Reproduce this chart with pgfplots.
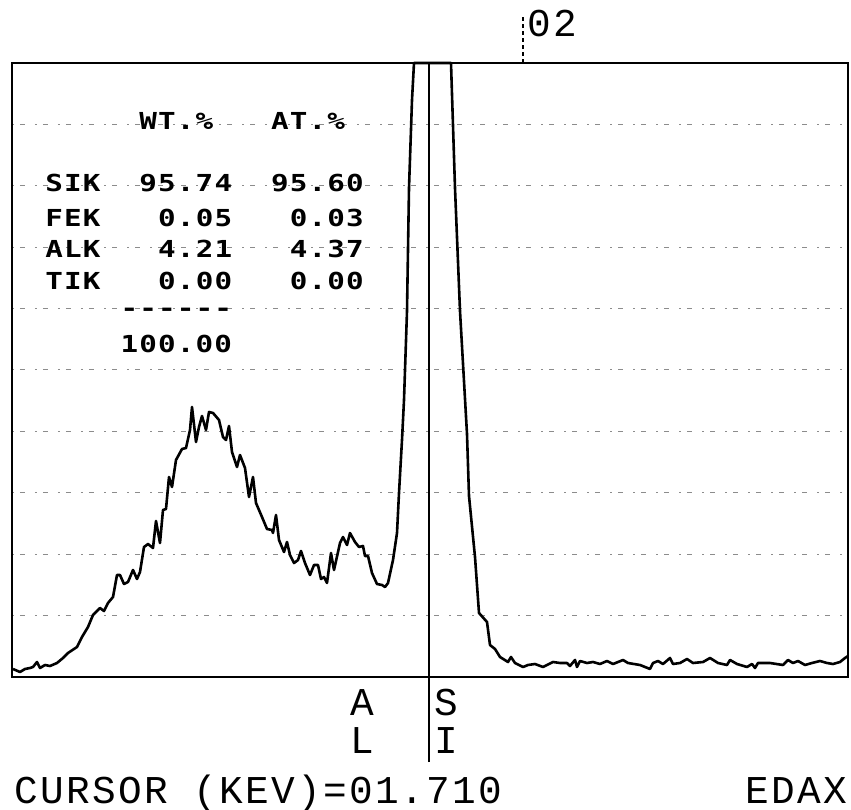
\documentclass[border=0pt]{standalone}
\usepackage{pgfplots}
\pgfplotsset{compat=1.18}
\usepackage{fontspec}
\setmainfont{Liberation Sans}
\newfontfamily\plotfont[LetterSpace=5.8]{Liberation Mono}
\newfontfamily\tabfontfam[FakeStretch=1.25,LetterSpace=5]{DejaVu Sans Mono}
\newcommand\tab{\tabfontfam\bfseries\fontsize{11.7pt}{12pt}\selectfont}
\newcommand\plt{\plotfont\fontsize{19.7pt}{20pt}\selectfont}
\begin{document}
\begin{tikzpicture}
\path[use as bounding box] (0,0) rectangle (425.5pt,404.5pt);
\begin{axis}[
  at={(6pt,66pt)}, anchor=south west,
  width=418pt, height=307pt, scale only axis,
  xmin=12, xmax=848, ymin=132, ymax=746,
  axis line style={line width=1pt},
  xtick=\empty,
  ytick={193.4,254.8,316.2,377.6,439,500.4,561.8,623.2,684.6},
  yticklabels={}, major tick length=0pt,
  ymajorgrids,
  grid style={black!45, line width=0.5pt, dash pattern=on 1pt off 3pt on 2.5pt off 5pt},
  clip=false]
% spectrum
\addplot[black, line width=1.3pt, line join=round] coordinates {
(13,140)(20,137)(25,140)(30,141)(33,142)(37,147)(40,141)(45,144)(50,143)(57,146)
(63,151)(68,156)(77,162)(82,172)(88,182)(93,194)(100,201)(104,198)(108,206)(113,212)
(117,234)(120,234)(124,225)(128,227)(133,239)(137,230)(140,237)(144,262)(148,265)(153,261)
(156,288)(158,277)(160,266)(163,299)(166,300)(169,332)(172,322)(176,349)(182,360)(186,361)
(190,379)(192,402)(196,367)(199,382)(202,393)(206,379)(209,397)(213,396)(219,389)(223,372)
(226,369)(229,383)(232,357)(237,342)(240,354)(245,341)(249,312)(253,332)(256,306)(262,292)
(267,280)(272,279)(273,276)(276,294)(279,269)(284,257)(287,267)(290,254)(294,246)(298,249)
(301,258)(305,246)(310,234)(314,244)(318,244)(321,230)(324,232)(327,226)(331,256)(334,239)
(340,266)(343,272)(347,264)(350,276)(355,267)(359,262)(363,263)(365,253)(368,253)(372,236)
(377,225)(382,224)(385,222)(388,226)(393,249)(397,276)(399,316)(402,369)(404,409)(407,498)
(409,621)(412,709)(414,746)(451,746)
(455,621)(460,498)(467,375)(469,313)(475,252)(479,196)(487,187)(490,164)(495,160)(500,152)
(508,147)(511,152)(515,146)(523,142)(528,144)(535,145)(543,142)(553,147)(560,146)(567,146)
(570,143)(575,149)(577,142)(580,148)(587,146)(593,147)(600,145)(607,148)(613,145)(623,149)
(628,146)(640,144)(650,140)(653,146)(658,148)(663,145)(670,151)(673,145)(680,146)(687,150)
(693,146)(703,147)(710,151)(718,146)(727,144)(730,149)(737,145)(747,142)(752,145)(755,141)
(758,146)(770,146)(783,144)(788,149)(793,146)(798,148)(805,144)(812,146)(820,148)(827,146)
(833,145)(840,147)(845,151)(848,153)};
% cursor line
\addplot[black, line width=0.7pt] coordinates {(429,47) (429,746)};
% top marker
\addplot[black, line width=0.6pt, dash pattern=on 2pt off 1.5pt] coordinates {(523,746) (523,794)};
% table
\node[anchor=base west, inner sep=0pt] at (axis cs:139,679) {\tab WT.\%};
\node[anchor=base west, inner sep=0pt] at (axis cs:270.6,679) {\tab AT.\%};
\node[anchor=base west, inner sep=0pt] at (axis cs:45,617) {\tab SIK};
\node[anchor=base west, inner sep=0pt] at (axis cs:139,617) {\tab 95.74};
\node[anchor=base west, inner sep=0pt] at (axis cs:270.6,617) {\tab 95.60};
\node[anchor=base west, inner sep=0pt] at (axis cs:45,582) {\tab FEK};
\node[anchor=base west, inner sep=0pt] at (axis cs:157.8,582) {\tab 0.05};
\node[anchor=base west, inner sep=0pt] at (axis cs:289.4,582) {\tab 0.03};
\node[anchor=base west, inner sep=0pt] at (axis cs:45,551) {\tab ALK};
\node[anchor=base west, inner sep=0pt] at (axis cs:157.8,551) {\tab 4.21};
\node[anchor=base west, inner sep=0pt] at (axis cs:289.4,551) {\tab 4.37};
\node[anchor=base west, inner sep=0pt] at (axis cs:45,519) {\tab TIK};
\node[anchor=base west, inner sep=0pt] at (axis cs:157.8,519) {\tab 0.00};
\node[anchor=base west, inner sep=0pt] at (axis cs:289.4,519) {\tab 0.00};
\node[anchor=base west, inner sep=0pt] at (axis cs:120.2,492) {\tab ------};
\node[anchor=base west, inner sep=0pt] at (axis cs:120.2,456) {\tab 100.00};
% element labels
\node[anchor=base west, inner sep=0pt] at (axis cs:350,94) {\plt A};
\node[anchor=base west, inner sep=0pt] at (axis cs:350,56) {\plt L};
\node[anchor=base west, inner sep=0pt] at (axis cs:434,94) {\plt S};
\node[anchor=base west, inner sep=0pt] at (axis cs:434,56) {\plt I};
% top label
\node[anchor=base west, inner sep=0pt] at (axis cs:527,772) {\plt 02};
% bottom line
\node[anchor=base west, inner sep=0pt] at (axis cs:14,6) {\plt CURSOR (KEV)=01.710};
\node[anchor=base west, inner sep=0pt] at (axis cs:745,6) {\plt EDAX};
\end{axis}
\end{tikzpicture}
\end{document}
